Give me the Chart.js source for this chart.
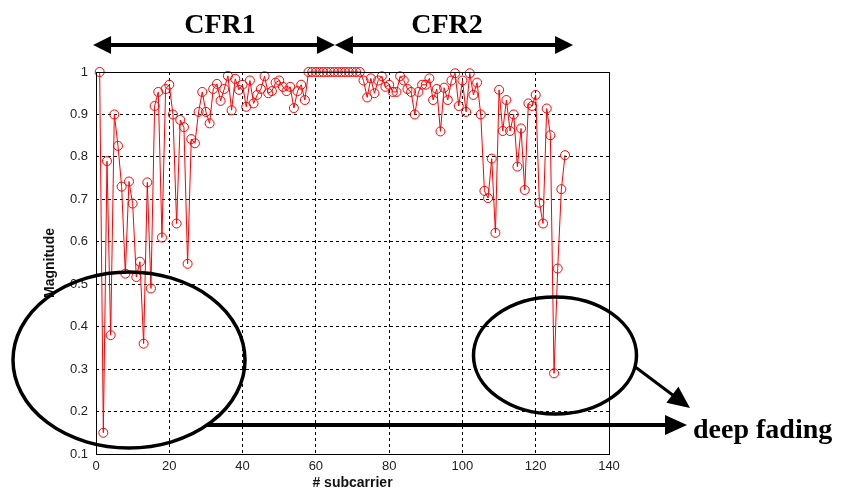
<!DOCTYPE html>
<html>
<head>
<meta charset="utf-8">
<script src="https://cdn.jsdelivr.net/npm/chart.js@4/dist/chart.umd.min.js"></script>
<style>
  html, body { margin: 0; padding: 0; background: #fff; }
  canvas { display: block; }
</style>
</head>
<body>
<canvas id="cfr-chart" width="843" height="496"></canvas>
<script>
// subcarrier index 1..128
const subcarriers = Array.from({ length: 128 }, (_, i) => i + 1);

// channel magnitude
const magnitude = [
  1.00, 0.15, 0.79, 0.38, 0.90, 0.826, 0.73, 0.525, 0.742, 0.69,
  0.517, 0.553, 0.36, 0.74, 0.49, 0.92, 0.953, 0.61, 0.96, 0.97,
  0.90, 0.643, 0.887, 0.87, 0.548, 0.842, 0.832, 0.906, 0.953, 0.906,
  0.879, 0.96, 0.972, 0.932, 0.96, 0.991, 0.91, 0.984, 0.958, 0.97,
  0.918, 0.98, 0.926, 0.946, 0.96, 0.99, 0.95, 0.955, 0.975, 0.98,
  0.965, 0.955, 0.965, 0.915, 0.955, 0.97, 0.934, 1.00, 1.00, 1.00,
  1.00, 1.00, 1.00, 1.00, 1.00, 1.00, 1.00, 1.00, 1.00, 1.00,
  1.00, 1.00, 0.98, 0.94, 0.985, 0.95, 0.98, 0.99, 0.965, 0.97,
  0.953, 0.953, 0.99, 0.98, 0.96, 0.953, 0.90, 0.953, 0.97, 0.97,
  0.985, 0.934, 0.96, 0.86, 0.963, 0.934, 0.98, 0.997, 0.92, 0.98,
  0.906, 0.997, 0.946, 0.975, 0.90, 0.72, 0.703, 0.796, 0.621, 0.958,
  0.861, 0.934, 0.861, 0.90, 0.777, 0.867, 0.722, 0.926, 0.92, 0.946,
  0.692, 0.643, 0.914, 0.851, 0.29, 0.537, 0.724, 0.804
];

const xTicks = [0, 20, 40, 60, 80, 100, 120, 140];
const yTicks = [0.1, 0.2, 0.3, 0.4, 0.5, 0.6, 0.7, 0.8, 0.9, 1];

const points = subcarriers.map((s, i) => ({ x: s, y: magnitude[i] }));

function arrowHead(ctx, x1, y1, x2, y2, len, half) {
  const a = Math.atan2(y2 - y1, x2 - x1);
  ctx.beginPath();
  ctx.moveTo(x2, y2);
  ctx.lineTo(x2 - len * Math.cos(a) + half * Math.sin(a), y2 - len * Math.sin(a) - half * Math.cos(a));
  ctx.lineTo(x2 - len * Math.cos(a) - half * Math.sin(a), y2 - len * Math.sin(a) + half * Math.cos(a));
  ctx.closePath();
  ctx.fill();
}

function arrow(ctx, x1, y1, x2, y2, width, len, half, both) {
  const a = Math.atan2(y2 - y1, x2 - x1);
  const off = both ? len - 2 : 0;
  ctx.lineWidth = width;
  ctx.beginPath();
  ctx.moveTo(x1 + off * Math.cos(a), y1 + off * Math.sin(a));
  ctx.lineTo(x2 - (len - 2) * Math.cos(a), y2 - (len - 2) * Math.sin(a));
  ctx.stroke();
  arrowHead(ctx, x1, y1, x2, y2, len, half);
  if (both) arrowHead(ctx, x2, y2, x1, y1, len, half);
}

// box round the axes plus the hand-drawn notes of the figure
const notes = {
  id: 'notes',
  afterDatasetsDraw(chart) {
    const ctx = chart.ctx;
    const area = chart.chartArea;
    const xs = chart.scales.x;
    ctx.save();
    ctx.strokeStyle = '#000';
    ctx.fillStyle = '#000';

    ctx.lineWidth = 1;
    ctx.strokeRect(area.left + 0.5, area.top + 0.5, area.right - area.left, area.bottom - area.top);

    // CFR1 / CFR2 double arrows
    const xl = xs.getPixelForValue(-0.8);
    const xm = xs.getPixelForValue(65.2);
    const xr = xs.getPixelForValue(130.2);
    const ya = 45;
    arrow(ctx, xl, ya, xm, ya, 4, 18, 9, true);
    arrow(ctx, xm, ya, xr, ya, 4, 18, 9, true);

    ctx.font = 'bold 28px "Liberation Serif", "Times New Roman", serif';
    ctx.textAlign = 'center';
    ctx.textBaseline = 'alphabetic';
    ctx.fillText('CFR1', 220, 33);
    ctx.fillText('CFR2', 447, 33);

    // deep fading circles
    ctx.lineWidth = 3.5;
    ctx.beginPath();
    ctx.ellipse(129, 360, 116, 88, 0, 0, Math.PI * 2);
    ctx.stroke();
    ctx.beginPath();
    ctx.ellipse(555, 355.5, 81.5, 58.5, 0, 0, Math.PI * 2);
    ctx.stroke();

    arrow(ctx, 207, 425, 687, 425, 4, 22, 10, false);
    arrow(ctx, 634, 366, 690, 408, 3, 22, 10, false);

    ctx.textAlign = 'left';
    ctx.fillText('deep fading', 693, 438);
    ctx.restore();
  }
};

new Chart(document.getElementById('cfr-chart').getContext('2d'), {
  type: 'line',
  data: {
    datasets: [{
      label: 'Magnitude',
      data: points,
      borderColor: '#ff0000',
      borderWidth: 1,
      backgroundColor: 'rgba(0,0,0,0)',
      pointStyle: 'circle',
      pointRadius: 4.5,
      pointBorderWidth: 1,
      pointBorderColor: '#ff0000',
      pointBackgroundColor: 'rgba(0,0,0,0)',
      tension: 0,
      clip: false
    }]
  },
  options: {
    responsive: false,
    animation: false,
    layout: { padding: { left: 38, top: 72, right: 234, bottom: 0 } },
    plugins: {
      legend: { display: false },
      tooltip: { enabled: false }
    },
    scales: {
      x: {
        type: 'linear',
        min: 0,
        max: 140,
        afterFit: (scale) => { scale.height = 42; },
        afterBuildTicks: (scale) => { scale.ticks = xTicks.map(v => ({ value: v })); },
        ticks: { color: '#222', padding: 5, font: { family: 'Liberation Sans, Arial', size: 13 } },
        grid: { color: '#000', drawTicks: false, lineWidth: 1 },
        border: { display: false, dash: [3, 3] },
        title: {
          display: true,
          text: '# subcarrier',
          color: '#111',
          font: { family: 'Liberation Sans, Arial', size: 14, weight: 'bold' },
          padding: { top: 0, bottom: 4 }
        }
      },
      y: {
        type: 'linear',
        min: 0.1,
        max: 1,
        afterFit: (scale) => { scale.width = 58; },
        afterBuildTicks: (scale) => { scale.ticks = yTicks.map(v => ({ value: v })); },
        ticks: {
          color: '#222',
          padding: 8,
          font: { family: 'Liberation Sans, Arial', size: 13 },
          callback: (v) => String(Number(v.toFixed(1)))
        },
        grid: { color: '#000', drawTicks: false, lineWidth: 1 },
        border: { display: false, dash: [3, 3] },
        title: {
          display: true,
          text: 'Magnitude',
          color: '#111',
          font: { family: 'Liberation Sans, Arial', size: 14, weight: 'bold' },
          padding: { top: 4, bottom: 0 }
        }
      }
    }
  },
  plugins: [notes]
});
</script>
</body>
</html>
